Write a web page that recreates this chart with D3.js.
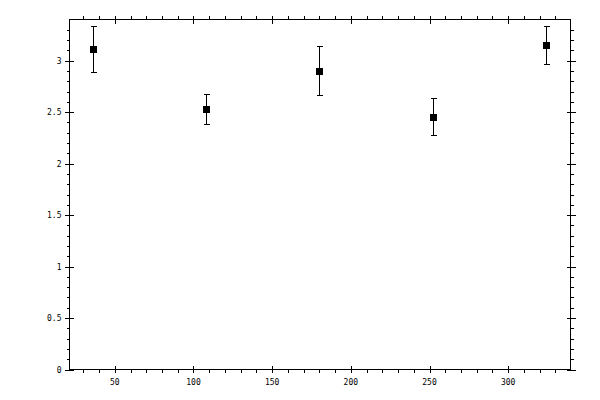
<!DOCTYPE html>
<html>
<head>
<meta charset="utf-8">
<script src="https://cdn.jsdelivr.net/npm/d3@7"></script>
<style>
  body { margin: 0; background: #fff; }
  text { font-family: "DejaVu Sans Mono", monospace; font-size: 8px; fill: #000; }
  line, rect.frame { shape-rendering: crispEdges; }
</style>
</head>
<body>
<svg id="chart" width="600" height="400"></svg>
<script>
// data
var xValues = [36, 108, 180, 252, 324];
var yValues = [3.117, 2.534, 2.903, 2.456, 3.155];
var yErrors = [0.223, 0.146, 0.238, 0.180, 0.183];

var xMajor = [50, 100, 150, 200, 250, 300];
var yMajor = [0, 0.5, 1, 1.5, 2, 2.5, 3];

var svg = d3.select('#chart');

// plot box (window.top is reserved, hence the prefixes)
var boxLeft = 69.5, boxRight = 570.5, boxTop = 19.5, boxBottom = 369.5;

var x = d3.scaleLinear().domain([21.2, 339.6]).range([boxLeft, boxRight]);
var y = d3.scaleLinear().domain([0, 3.4]).range([boxBottom, boxTop]);

var xMinor = d3.range(30, 340, 10).filter(function(v) { return v % 50 !== 0; });
var yMinor = d3.range(1, 34).map(function(v) { return v / 10; })
    .filter(function(v) { return Math.round(v * 10) % 5 !== 0; });

var axes = svg.append('g').attr('stroke', '#000').attr('stroke-width', 1);

// frame
axes.append('rect')
    .attr('class', 'frame')
    .attr('x', boxLeft)
    .attr('y', boxTop)
    .attr('width', boxRight - boxLeft)
    .attr('height', boxBottom - boxTop)
    .attr('fill', 'none');

function px(v) { return Math.round(v) + 0.5; }

// bottom and top ticks
xMinor.forEach(function(v) {
  var p = px(x(v));
  axes.append('line').attr('x1', p).attr('x2', p).attr('y1', boxBottom).attr('y2', boxBottom + 3);
  axes.append('line').attr('x1', p).attr('x2', p).attr('y1', boxTop).attr('y2', boxTop - 4);
});
xMajor.forEach(function(v) {
  var p = px(x(v));
  axes.append('line').attr('x1', p).attr('x2', p).attr('y1', boxBottom - 4).attr('y2', boxBottom + 3);
  axes.append('line').attr('x1', p).attr('x2', p).attr('y1', boxTop + 4).attr('y2', boxTop - 4);
});

// left and right ticks
yMinor.forEach(function(v) {
  var p = px(y(v));
  axes.append('line').attr('y1', p).attr('y2', p).attr('x1', boxLeft).attr('x2', boxLeft - 3);
  axes.append('line').attr('y1', p).attr('y2', p).attr('x1', boxRight).attr('x2', boxRight + 3);
});
yMajor.forEach(function(v) {
  var p = px(y(v));
  axes.append('line').attr('y1', p).attr('y2', p).attr('x1', boxLeft - 5).attr('x2', boxLeft + 4);
  axes.append('line').attr('y1', p).attr('y2', p).attr('x1', boxRight - 4).attr('x2', boxRight + 5);
});

// tick labels
svg.append('g').selectAll('text')
    .data(xMajor)
  .enter().append('text')
    .attr('x', function(d) { return x(d); })
    .attr('y', boxBottom + 15)
    .attr('text-anchor', 'middle')
    .text(function(d) { return d; });

svg.append('g').selectAll('text')
    .data(yMajor)
  .enter().append('text')
    .attr('x', boxLeft - 8)
    .attr('y', function(d) { return y(d) + 3; })
    .attr('text-anchor', 'end')
    .text(function(d) { return d; });

// error bars and markers
var pts = xValues.map(function(v, i) {
  return { x: v, y: yValues[i], e: yErrors[i] };
});

var g = svg.append('g').selectAll('g')
    .data(pts)
  .enter().append('g')
    .attr('stroke', '#000')
    .attr('stroke-width', 1);

g.append('line')
    .attr('x1', function(d) { return px(x(d.x)); })
    .attr('x2', function(d) { return px(x(d.x)); })
    .attr('y1', function(d) { return y(d.y - d.e); })
    .attr('y2', function(d) { return y(d.y + d.e); });

g.append('line')
    .attr('x1', function(d) { return px(x(d.x)) - 3; })
    .attr('x2', function(d) { return px(x(d.x)) + 3; })
    .attr('y1', function(d) { return px(y(d.y + d.e)); })
    .attr('y2', function(d) { return px(y(d.y + d.e)); });

g.append('line')
    .attr('x1', function(d) { return px(x(d.x)) - 3; })
    .attr('x2', function(d) { return px(x(d.x)) + 3; })
    .attr('y1', function(d) { return px(y(d.y - d.e)); })
    .attr('y2', function(d) { return px(y(d.y - d.e)); });

g.append('rect')
    .attr('x', function(d) { return Math.round(x(d.x)) - 3; })
    .attr('y', function(d) { return Math.round(y(d.y)) - 3; })
    .attr('width', 7)
    .attr('height', 7)
    .attr('stroke', 'none')
    .attr('fill', '#000');
</script>
</body>
</html>
